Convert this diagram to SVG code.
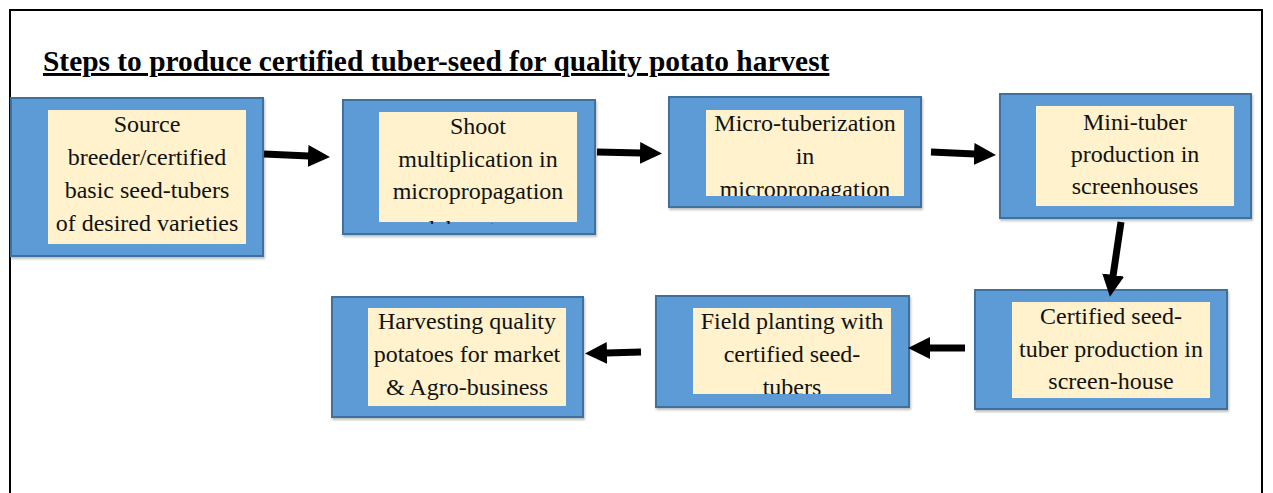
<svg xmlns="http://www.w3.org/2000/svg" width="1273" height="493" viewBox="0 0 1273 493">
<style>
.outer{fill:#5B9BD5;stroke:#41719C;stroke-width:2}
.inner{fill:#FFF2CC}
.lbl{font-family:"Liberation Serif","Times New Roman",serif;font-size:24px;fill:#111;text-anchor:middle}
.title{font-family:"Liberation Serif","Times New Roman",serif;font-size:29.4px;font-weight:bold;fill:#000;text-decoration:underline}
.conn{stroke:#000;stroke-width:7;fill:none;marker-end:url(#head)}
</style>
<defs>
<marker id="head" markerUnits="userSpaceOnUse" markerWidth="23" markerHeight="23" refX="1" refY="11" orient="auto">
<path d="M0,0 L22,11 L0,22 z" fill="#000"/>
</marker>
<filter id="sh" x="-5%" y="-5%" width="115%" height="120%">
<feDropShadow dx="1" dy="2" stdDeviation="1" flood-color="#7f7f7f" flood-opacity="0.5"/>
</filter>
<clipPath id="c2"><rect x="379" y="112" width="198" height="112"/></clipPath>
<clipPath id="c3"><rect x="706" y="110" width="198" height="86"/></clipPath>
<clipPath id="c6"><rect x="693" y="308" width="198" height="86"/></clipPath>
</defs>
<rect width="1273" height="493" fill="#fff"/>
<path d="M10,493 V10 H1262 V493" fill="none" stroke="#000" stroke-width="2"/>
<text class="title" x="43" y="71">Steps to produce certified tuber-seed for quality potato harvest</text>

<g id="node1">
<rect class="outer" x="11" y="98" width="252" height="158" filter="url(#sh)"/>
<rect class="inner" x="48" y="110" width="198" height="134"/>
<text class="lbl" x="147" y="132">Source</text>
<text class="lbl" x="147" y="165">breeder/certified</text>
<text class="lbl" x="147" y="198">basic seed-tubers</text>
<text class="lbl" x="147" y="231">of desired varieties</text>
</g>
<g id="node2">
<rect class="outer" x="343" y="100" width="252" height="134" filter="url(#sh)"/>
<rect class="inner" x="379" y="112" width="198" height="110"/>
<g clip-path="url(#c2)">
<text class="lbl" x="478" y="134">Shoot</text>
<text class="lbl" x="478" y="167">multiplication in</text>
<text class="lbl" x="478" y="199">micropropagation</text>
<text class="lbl" x="478" y="237">laboratory</text>
</g>
</g>
<g id="node3">
<rect class="outer" x="669" y="97" width="252" height="110" filter="url(#sh)"/>
<rect class="inner" x="706" y="110" width="198" height="86"/>
<g clip-path="url(#c3)">
<text class="lbl" x="805" y="131">Micro-tuberization</text>
<text class="lbl" x="805" y="164">in</text>
<text class="lbl" x="805" y="197">micropropagation</text>
</g>
</g>
<g id="node4">
<rect class="outer" x="1000" y="94" width="251" height="124" filter="url(#sh)"/>
<rect class="inner" x="1036" y="106" width="198" height="100"/>
<text class="lbl" x="1135" y="130">Mini-tuber</text>
<text class="lbl" x="1135" y="162">production in</text>
<text class="lbl" x="1135" y="194">screenhouses</text>
</g>
<g id="node5">
<rect class="outer" x="975" y="290" width="252" height="119" filter="url(#sh)"/>
<rect class="inner" x="1012" y="302" width="198" height="96"/>
<text class="lbl" x="1111" y="324">Certified seed-</text>
<text class="lbl" x="1111" y="357">tuber production in</text>
<text class="lbl" x="1111" y="389">screen-house</text>
</g>
<g id="node6">
<rect class="outer" x="656" y="296" width="253" height="111" filter="url(#sh)"/>
<rect class="inner" x="693" y="308" width="198" height="86"/>
<g clip-path="url(#c6)">
<text class="lbl" x="792" y="329">Field planting with</text>
<text class="lbl" x="792" y="362">certified seed-</text>
<text class="lbl" x="792" y="395">tubers</text>
</g>
</g>
<g id="node7">
<rect class="outer" x="332" y="297" width="251" height="120" filter="url(#sh)"/>
<rect class="inner" x="368" y="308" width="198" height="98"/>
<text class="lbl" x="467" y="329">Harvesting quality</text>
<text class="lbl" x="467" y="362">potatoes for market</text>
<text class="lbl" x="467" y="395">&amp; Agro-business</text>
</g>

<g id="connectors">
<path class="conn" d="M264,154 L309,156"/>
<path class="conn" d="M597,152 L641,153"/>
<path class="conn" d="M931,152 L975,154"/>
<path class="conn" d="M1121,222 L1113,276"/>
<path class="conn" d="M965,348 L929,348"/>
<path class="conn" d="M641,352 L606,353"/>
</g>
</svg>
